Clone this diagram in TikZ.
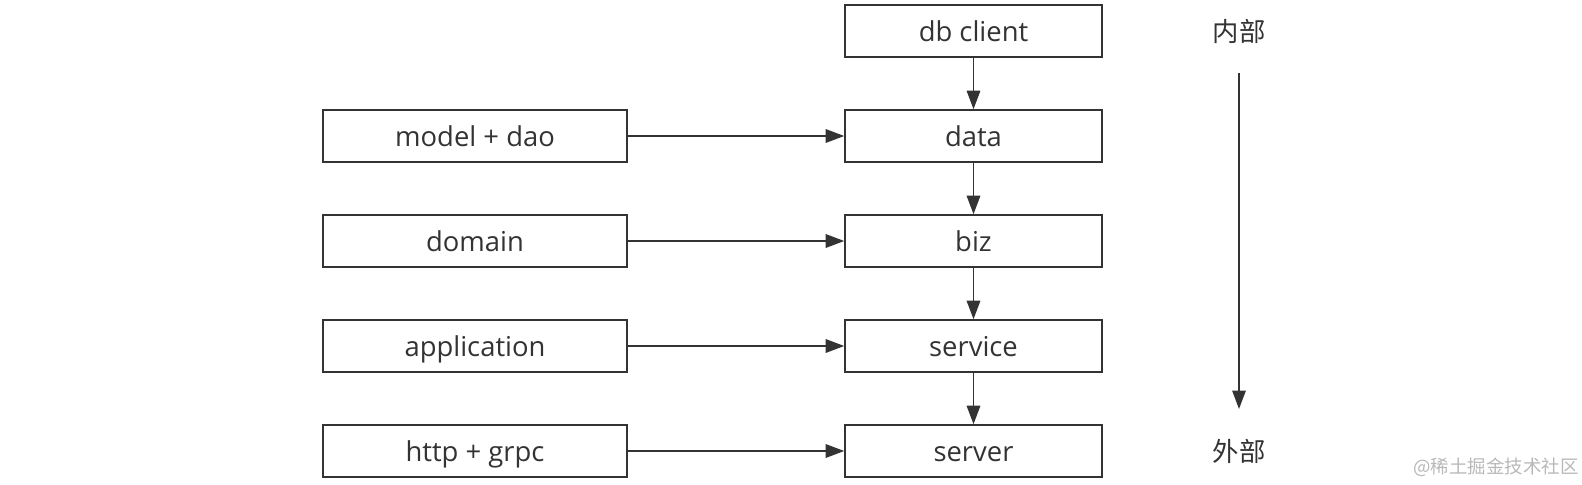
\documentclass[tikz,border=0pt]{standalone}
\usepackage{fontspec}
\setmainfont{Open Sans}
\newfontfamily\cjk{Noto Sans CJK SC}
\usetikzlibrary{arrows.meta, positioning}
\definecolor{trait}{HTML}{333333}
\definecolor{filigrane}{HTML}{B8B8B8}

\begin{document}
\begin{tikzpicture}[x=0.02cm, y=-0.02cm,
    couche/.style={draw=trait, text=trait, line width=0.9pt, inner sep=0pt,
      minimum width=5.14cm, minimum height=1.04cm, text height=14.8pt, text depth=3.4pt,
      font=\fontsize{15.6}{18}\selectfont},
    source/.style={couche, minimum width=6.08cm},
    fleche/.style={draw=trait, line width=0.9pt, -{Triangle[length=0.37cm, width=0.27cm]}},
    etiquette/.style={text=trait, font=\cjk\fontsize{15}{18}\selectfont}]
    \useasboundingbox (0,0) rectangle (1582,484);
    % Colonne des couches
    \node[couche] (client) at (973.5,31) {db client};
    \node[couche] (data) at (973.5,136) {data};
    \node[couche] (biz) at (973.5,241) {biz};
    \node[couche] (service) at (973.5,346) {service};
    \node[couche] (server) at (973.5,451) {server};
    \draw[fleche] (client) -- (data);
    \draw[fleche] (data) -- (biz);
    \draw[fleche] (biz) -- (service);
    \draw[fleche] (service) -- (server);
    % Correspondances a gauche
    \node[source, left=4.33cm of data] (model) {model + dao};
    \node[source, left=4.33cm of biz] (domain) {domain};
    \node[source, left=4.33cm of service] (appli) {application};
    \node[source, left=4.33cm of server] (transport) {http + grpc};
    \draw[fleche] (model) -- (data);
    \draw[fleche] (domain) -- (biz);
    \draw[fleche] (appli) -- (service);
    \draw[fleche] (transport) -- (server);
    % Sens interne -> externe
    \node[etiquette] (interne) at (1239,31) {内部};
    \node[etiquette] (externe) at (1239,451) {外部};
    \coordinate (haut) at (1239,73);
    \coordinate (bas) at (1239,409);
    \draw[fleche] (haut) -- (bas);
    % Filigrane
    \node[text=filigrane, font=\cjk\fontsize{10.5}{12}\selectfont] (marque) at (1496,467) {@稀土掘金技术社区};
\end{tikzpicture}
\end{document}
